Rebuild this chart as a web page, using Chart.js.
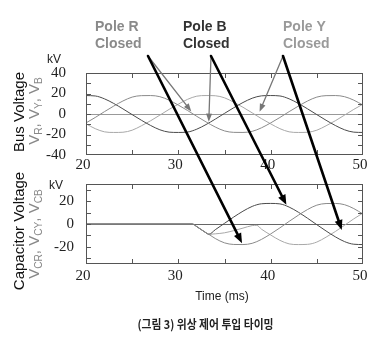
<!DOCTYPE html>
<html><head><meta charset="utf-8">
<script src="https://cdn.jsdelivr.net/npm/chart.js@4.4.1/dist/chart.umd.min.js"></script>
<style>
html,body{margin:0;padding:0;background:#fff;}
#wrap{position:relative;width:376px;height:342px;overflow:hidden;background:#fff;}
canvas{position:absolute;left:0;}
</style></head><body>
<div id="wrap">
<canvas id="busC" width="376" height="175" style="top:0px"></canvas>
<canvas id="capC" width="376" height="120" style="top:170px"></canvas>
<canvas id="ov" width="376" height="342" style="top:0px"></canvas>
</div>
<script>
// ---- data ----
const busTime = [20,21,22,23,24,25,26,27,28,29,30,31,32,33,34,35,36,37,38,39,40,41,42,43,44,45,46,47,48,49,50];
const busR = [-8.7,-3.4,2.3,7.7,12.7,16.5,17.9,18,16.9,13.5,8.7,3.4,-2.3,-7.7,-12.7,-16.5,-17.9,-18,-16.9,-13.5,-8.7,-3.4,2.3,7.7,12.7,16.5,17.9,18,16.9,13.5,8.7];
const busB = [18,17.6,14.8,10.3,5.0,-0.6,-6.1,-11.2,-15.4,-17.7,-18,-17.6,-14.8,-10.3,-5.0,0.6,6.1,11.2,15.4,17.7,18,17.6,14.8,10.3,5.0,-0.6,-6.1,-11.2,-15.4,-17.7,-18];
const busY = [-9.6,-14.3,-17.4,-18,-17.8,-15.8,-11.5,-6.6,-1.1,4.5,9.6,14.3,17.4,18,17.8,15.8,11.5,6.6,1.1,-4.5,-9.6,-14.3,-17.4,-18,-17.8,-15.8,-11.5,-6.6,-1.1,4.5,9.6];

const capRTime = [20,31.5,32,33,33.3,34,35,36,37,38,39,40,41,42,43,44,45,46,47,48,49,50];
const capR = [0,0,-2.3,-7.7,-9,-12.7,-16.5,-17.9,-18,-16.9,-13.5,-8.7,-3.4,2.3,7.7,12.7,16.5,17.9,18,16.9,13.5,8.7];
const capBTime = [20,31.5,32,33,33.3,34,35,36,37,38,39,40,41,42,43,44,45,46,47,48,49,50];
const capB = [0,0,-2.3,-7.7,-9,-5.0,0.6,6.1,11.2,15.4,17.7,18,17.6,14.8,10.3,5.0,-0.6,-6.1,-11.2,-15.4,-17.7,-18];
const capYTime = [20,31.5,32,33,33.3,34,35,36,37,38,38.5,39,40,41,42,43,44,45,46,47,48,49,50];
const capY = [0,0,-2.3,-7.7,-9,-8.6,-7.7,-5.8,-3.6,-1.4,-1.2,-4.5,-9.6,-14.3,-17.4,-18,-17.8,-15.8,-11.5,-6.6,-1.1,4.5,9.6];

const xTickLabels = [20,30,40,50];
const xMinorTicks = [25,30,35,40,45];
const busYTickLabels = [-40,-20,0,20,40];
const busYMinorTicks = [-30,-20,-10,0,10,20,30];
const capYTickLabels = [-20,0,20];
const capYMinorTicks = [-30,-20,-10,0,10,20,30];

// ---- styles ----
const colR = '#8a8a8a', colB = '#4a4a4a', colY = '#a8a8a8';
const serif = '"Liberation Serif","Times New Roman",serif';
const sans = '"Liberation Sans",Arial,sans-serif';

function pts(t, v){ return t.map((x,i)=>({x:x, y:v[i]})); }
function ds(t, v, c){ return {data: pts(t,v), borderColor:c, borderWidth:1, pointRadius:0, fill:false, cubicInterpolationMode:'monotone'}; }

const framePlugin = {
  id:'frame',
  afterDraw(chart, args, o){
    const ctx = chart.ctx, a = chart.chartArea, xs = chart.scales.x, ys = chart.scales.y;
    ctx.save();
    ctx.strokeStyle = '#555'; ctx.lineWidth = 1;
    ctx.strokeRect(Math.round(a.left)+0.5, Math.round(a.top)+0.5, Math.round(a.right-a.left)-1, Math.round(a.bottom-a.top)-1);
    ctx.beginPath();
    o.yMinor.forEach(v=>{
      const y = Math.round(ys.getPixelForValue(v))+0.5;
      ctx.moveTo(a.left, y); ctx.lineTo(a.left+5, y);
      ctx.moveTo(a.right, y); ctx.lineTo(a.right-5, y);
    });
    o.xMinor.forEach(v=>{
      const x = Math.round(xs.getPixelForValue(v))+0.5;
      ctx.moveTo(x, a.bottom); ctx.lineTo(x, a.bottom-5);
      ctx.moveTo(x, a.top); ctx.lineTo(x, a.top+5);
    });
    ctx.stroke();
    ctx.restore();
  }
};

function zeroPad(s){ s.paddingTop = 0; s.paddingBottom = 0; s.paddingLeft = 0; s.paddingRight = 0; }

function makeChart(id, datasets, yMin, yMax, yLabels, yMinor, padTop, areaH, canvasH, yPad, xPad, zeroCol){
  return new Chart(document.getElementById(id), {
    type:'line',
    data:{datasets:datasets},
    plugins:[framePlugin],
    options:{
      animation:false, responsive:false, devicePixelRatio:1, events:[],
      layout:{padding:{top:padTop, right:13, left:0, bottom:0}},
      plugins:{legend:{display:false}, tooltip:{enabled:false}, frame:{yMinor:yMinor, xMinor:xMinorTicks}},
      scales:{
        x:{type:'linear', min:20, max:50,
           afterBuildTicks:s=>{ s.ticks = xTickLabels.map(v=>({value:v})); },
           afterFit:s=>{ s.height = canvasH - padTop - areaH; zeroPad(s); },
           grid:{display:false, drawTicks:false}, border:{display:false},
           ticks:{font:{family:serif, size:15}, color:'#222', padding:xPad, labelOffset:-3, maxRotation:0, autoSkip:false}},
        y:{type:'linear', min:yMin, max:yMax,
           afterBuildTicks:s=>{ s.ticks = yLabels.map(v=>({value:v})); },
           afterFit:s=>{ s.width = 86; zeroPad(s); },
           grid:{drawTicks:false, color:c=> (c.tick && c.tick.value===0) ? zeroCol : 'rgba(0,0,0,0)', lineWidth:1},
           border:{display:false},
           ticks:{font:{family:serif, size:15}, color:'#222', padding:yPad, autoSkip:false}}
      }
    }
  });
}

const busChart = makeChart('busC', [ds(busTime,busR,colR), ds(busTime,busB,colB), ds(busTime,busY,colY)],
  -40, 40, busYTickLabels, busYMinorTicks, 73, 82, 175, 20, 1, '#999');
const capChart = makeChart('capC', [ds(capRTime,capR,colR), ds(capBTime,capB,colB), ds(capYTime,capY,colY)],
  -35, 35, capYTickLabels, capYMinorTicks, 14, 80, 120, 12, 3, '#666');
const capOffset = 170;

// ---- overlay: labels, titles, arrows ----
const ov = document.getElementById('ov').getContext('2d');
function px(chart, off, x, y){ return [chart.scales.x.getPixelForValue(x), chart.scales.y.getPixelForValue(y)+off]; }
function arrow(x0,y0,x1,y1,color,lw,hl,hw){
  const a = Math.atan2(y1-y0, x1-x0), c=Math.cos(a), s=Math.sin(a);
  const bx = x1-hl*c, by = y1-hl*s;
  ov.save();
  ov.strokeStyle=color; ov.fillStyle=color; ov.lineWidth=lw; ov.lineCap='round';
  ov.beginPath(); ov.moveTo(x0,y0); ov.lineTo(bx+ c*1, by+ s*1); ov.stroke();
  ov.beginPath(); ov.moveTo(x1,y1); ov.lineTo(bx - s*hw/2, by + c*hw/2); ov.lineTo(bx + s*hw/2, by - c*hw/2); ov.closePath(); ov.fill();
  ov.restore();
}
function vtext(parts, cx, baseX, size, color){
  ov.save();
  ov.fillStyle = color;
  let w = 0;
  parts.forEach(p=>{ ov.font = (p.sub? size*0.68 : size)+'px '+sans; w += ov.measureText(p.t).width; });
  ov.translate(baseX, cx); ov.rotate(-Math.PI/2);
  ov.textBaseline='alphabetic'; ov.textAlign='left';
  let x = -w/2;
  parts.forEach(p=>{ ov.font = (p.sub? size*0.68 : size)+'px '+sans; ov.fillText(p.t, x, p.sub? size*0.22 : 0); x += ov.measureText(p.t).width; });
  ov.restore();
}

// titles
vtext([{t:'Bus Voltage'}], 112, 23.5, 15, '#111');
vtext([{t:'V'},{t:'R',sub:1},{t:', V'},{t:'Y',sub:1},{t:', V'},{t:'B',sub:1}], 111, 38.5, 15, '#888');
vtext([{t:'Capacitor Voltage'}], 231, 23.5, 15, '#111');
vtext([{t:'V'},{t:'CR',sub:1},{t:', V'},{t:'CY',sub:1},{t:', V'},{t:'CB',sub:1}], 234, 39, 15, '#888');

ov.fillStyle='#222'; ov.font='12px '+sans; ov.textAlign='center'; ov.textBaseline='middle';
ov.fillText('kV', 54, 60);
ov.fillText('kV', 56, 186);
ov.fillText('Time (ms)', 222, 297);

// pole labels
ov.textAlign='left'; ov.textBaseline='alphabetic'; ov.font='bold 14px '+sans;
[['Pole R',95,'#8a8a8a'],['Pole B',183,'#333'],['Pole Y',283,'#9a9a9a']].forEach(l=>{
  ov.fillStyle=l[2]; ov.fillText(l[0], l[1], 30.5); ov.fillText('Closed', l[1], 47.5);
});

// arrows (tips located through the chart scales)
const gR = px(busChart,0,31.4,2.5), gB = px(busChart,0,33.3,-7.5), gY = px(busChart,0,38.8,2.2);
const kR = px(capChart,capOffset,36.9,-16.8), kB = px(capChart,capOffset,41.7,16.8), kY = px(capChart,capOffset,47.7,-5.3);
arrow(148,56,gR[0],gR[1],'#777',1.3,8,6);
arrow(211,56,gB[0],gB[1],'#777',1.3,8,6);
arrow(283,56,gY[0],gY[1],'#777',1.3,8,6);
arrow(148,56,kR[0],kR[1],'#000',2.6,10,8);
arrow(211,56,kB[0],kB[1],'#000',2.6,10,8);
arrow(283,56,kY[0],kY[1],'#000',2.6,10,8);

// caption
ov.save();
ov.fillStyle='#222'; ov.font='bold 12px "Noto Sans CJK KR"'; ov.textBaseline='middle'; ov.textAlign='left';
const cap = '(그림 3) 위상 제어 투입 타이밍';
const cw = ov.measureText(cap).width;
const sc = Math.max(0.9, Math.min(1, 126/cw));
ov.translate(205.5, 324.5); ov.scale(sc, 1);
ov.fillText(cap, -cw/2, 0);
ov.restore();
</script>
</body></html>
